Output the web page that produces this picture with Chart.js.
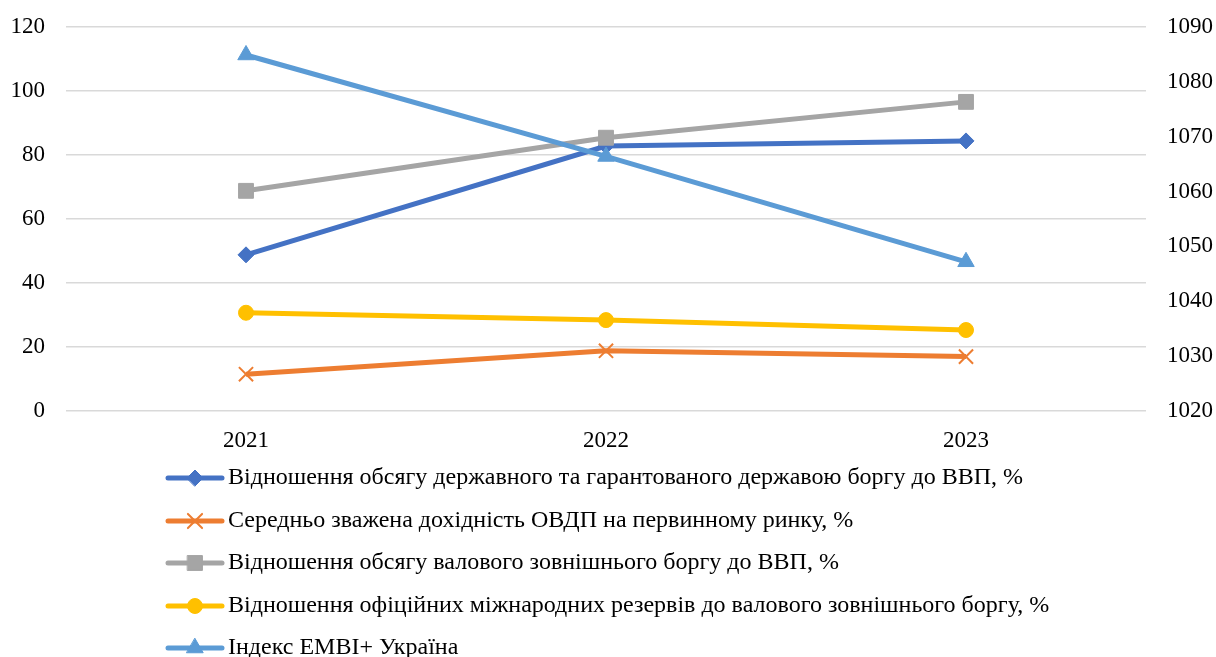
<!DOCTYPE html>
<html lang="uk">
<head>
  <meta charset="UTF-8">
  <title>Борг та резерви</title>
  <script src="https://cdn.jsdelivr.net/npm/chart.js"></script>
  <style>
    html, body {
      margin: 0;
      padding: 0;
      background: #fff;
    }

    #chart-container {
      width: 1216px;
      height: 657px;
    }
  </style>
</head>
<body>
  <div id="chart-container">
    <canvas id="debtChart" width="1216" height="657"></canvas>
  </div>

  <script>
const years = ["2021", "2022", "2023"];

const seriesNames = [
  "Відношення обсягу державного та гарантованого державою боргу до ВВП, %",
  "Середньо зважена дохідність ОВДП на первинному ринку, %",
  "Відношення обсягу валового зовнішнього боргу до ВВП, %",
  "Відношення офіційних міжнародних резервів до валового зовнішнього боргу, %",
  "Індекс EMBI+ Україна"
];

const govDebtToGdp = [48.8, 82.8, 84.4];
const ovdpYield = [11.5, 18.8, 17.0];
const externalDebtToGdp = [68.8, 85.4, 96.6];
const reservesToExternalDebt = [30.7, 28.4, 25.3];
const embiUkraine = [1084.9, 1066.4, 1047.2];

const leftTicks = [0, 20, 40, 60, 80, 100, 120];
const rightTicks = [1020, 1030, 1040, 1050, 1060, 1070, 1080, 1090];

const colors = ["#4472C4", "#ED7D31", "#A5A5A5", "#FFC000", "#5B9BD5"];
const markers = [
  { pointStyle: "rectRot", radius: 8, borderWidth: 1 },
  { pointStyle: "crossRot", radius: 10, borderWidth: 2 },
  { pointStyle: "rect", radius: 10.5, borderWidth: 1 },
  { pointStyle: "circle", radius: 7.5, borderWidth: 1 },
  { pointStyle: "triangle", radius: 9.5, borderWidth: 1 }
];

const allValues = [govDebtToGdp, ovdpYield, externalDebtToGdp, reservesToExternalDebt, embiUkraine];
const FONT = "'Liberation Serif', 'Times New Roman', serif";
const LINE_W = 5;

const datasets = allValues.map((vals, i) => ({
  label: seriesNames[i],
  data: vals,
  yAxisID: i === 4 ? "y2" : "y",
  borderColor: colors[i],
  backgroundColor: colors[i],
  borderWidth: LINE_W,
  pointStyle: markers[i].pointStyle,
  pointRadius: markers[i].radius,
  pointHoverRadius: markers[i].radius,
  pointBorderWidth: markers[i].borderWidth,
  pointBorderColor: colors[i],
  pointBackgroundColor: colors[i],
  tension: 0,
  order: allValues.length - 1 - i
}));

// легенда: лінія + маркер, список зліва
const legendPlugin = {
  id: "lineLegend",
  afterDraw(chart) {
    const ctx = chart.ctx;
    const x0 = 168, x1 = 222, textX = 228;
    const rowY = [478, 521, 563, 606, 648];
    ctx.save();
    seriesNames.forEach((name, i) => {
      const y = rowY[i];
      ctx.strokeStyle = colors[i];
      ctx.lineWidth = LINE_W;
      ctx.lineCap = "round";
      ctx.beginPath();
      ctx.moveTo(x0, y);
      ctx.lineTo(x1, y);
      ctx.stroke();
      ctx.fillStyle = colors[i];
      ctx.strokeStyle = colors[i];
      ctx.lineWidth = markers[i].borderWidth;
      Chart.helpers.drawPoint(ctx, {
        pointStyle: markers[i].pointStyle,
        radius: markers[i].radius,
        borderWidth: markers[i].borderWidth,
        rotation: 0
      }, (x0 + x1) / 2, y);
      ctx.fillStyle = "#000";
      ctx.font = "24px " + FONT;
      ctx.textBaseline = "middle";
      ctx.textAlign = "left";
      ctx.fillText(name, textX, y);
    });
    ctx.restore();
  }
};

function fitVertical(width) {
  return scale => {
    scale.width = width;
    scale.paddingTop = 0;
    scale.paddingBottom = 0;
  };
}

const ctx = document.getElementById("debtChart").getContext("2d");
new Chart(ctx, {
  type: "line",
  data: {
    labels: years,
    datasets: datasets
  },
  plugins: [legendPlugin],
  options: {
    responsive: false,
    animation: false,
    layout: {
      padding: { top: 27, bottom: 196, left: 0, right: 0 }
    },
    plugins: {
      legend: { display: false },
      tooltip: { enabled: false }
    },
    scales: {
      x: {
        offset: true,
        grid: { display: false, drawTicks: false },
        border: { display: false },
        ticks: {
          color: "#000",
          padding: 16,
          font: { family: FONT, size: 23 }
        },
        afterFit(scale) {
          scale.height = 50;
          scale.paddingLeft = 0;
          scale.paddingRight = 0;
        }
      },
      y: {
        position: "left",
        min: 0,
        max: 120,
        afterBuildTicks(scale) { scale.ticks = leftTicks.map(v => ({ value: v })); },
        grid: { color: "#D9D9D9", lineWidth: 1.5, drawTicks: false },
        border: { display: false },
        ticks: {
          color: "#000",
          padding: 21,
          font: { family: FONT, size: 23 }
        },
        afterFit: fitVertical(66)
      },
      y2: {
        position: "right",
        min: 1020,
        max: 1090,
        afterBuildTicks(scale) { scale.ticks = rightTicks.map(v => ({ value: v })); },
        grid: { display: false, drawTicks: false },
        border: { display: false },
        ticks: {
          color: "#000",
          padding: 21,
          font: { family: FONT, size: 23 },
          callback: v => String(v)
        },
        afterFit: fitVertical(70)
      }
    }
  }
});
  </script>
</body>
</html>
